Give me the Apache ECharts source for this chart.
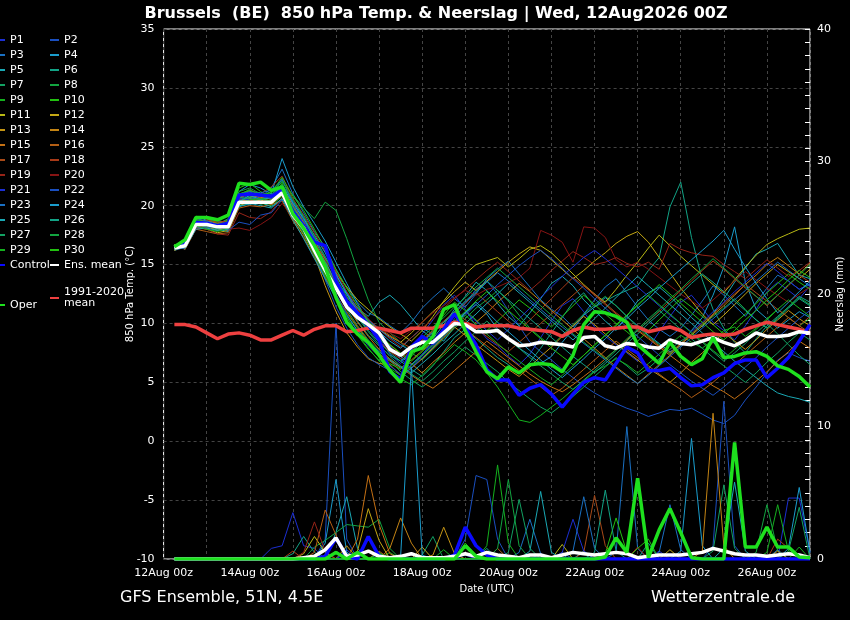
<!DOCTYPE html>
<html>
<head>
<meta charset="utf-8">
<script src="https://cdn.jsdelivr.net/npm/echarts@6/dist/echarts.min.js"></script>
<style>html,body{margin:0;padding:0;background:#000;overflow:hidden}#chart{width:850px;height:620px}</style>
</head>
<body>
<div id="chart"></div>
<script>
// forecast lead time (hours after 12Aug2026 00Z)
var leadHours = [6,12,18,24,30,36,42,48,54,60,66,72,78,84,90,96,102,108,114,120,
  126,132,138,144,150,156,162,168,174,180,186,192,198,204,210,216,222,228,234,240,
  246,252,258,264,270,276,282,288,294,300,306,312,318,324,330,336,342,348,354,360];
var dayLabels = ['12Aug 00z','','14Aug 00z','','16Aug 00z','','18Aug 00z','','20Aug 00z','',
  '22Aug 00z','','24Aug 00z','','26Aug 00z',''];

var members = ['P1','P2','P3','P4','P5','P6','P7','P8','P9','P10','P11','P12','P13','P14','P15',
  'P16','P17','P18','P19','P20','P21','P22','P23','P24','P25','P26','P27','P28','P29','P30'];
var memberColors = ['#1c2fd2','#1a4fbf','#1a70c2','#1a9ccc','#1aa8b4','#12a386','#12a062','#12a440','#14b01e','#22c010',
  '#b8b814','#c4a814','#c49414','#c48414','#c47014','#b45e14','#a84a18','#a83a18','#962418','#861414',
  '#1c2fd2','#1a4fbf','#1a70c2','#1a9ccc','#1aa8b4','#12a386','#12a062','#12a440','#14b01e','#22c010'];

// 850 hPa temperature (°C)
var tP1 = [16.3,16.7,18.2,18.0,17.9,18.0,20.6,20.9,20.4,20.2, 21.4,19.8,18.4,16.9,15.1,13.2,11.8,10.4,9.6,8.8,
  7.4,6.6,7.8,9.1,10.3,11.6,12.4,11.2,9.8,8.7, 8.1,7.2,6.5,7.4,8.8,10.2,11.5,12.1,11.0,9.7,
  8.9,8.2,7.5,6.8,7.9,9.3,10.6,11.8,12.4,11.3, 10.1,9.4,8.6,9.8,11.2,12.7,13.5,12.8,12.1,13.2];
var tP2 = [16.6,16.4,18.0,18.3,18.5,18.1,20.0,20.5,21.0,20.8, 22.3,20.1,18.7,17.2,15.6,13.8,12.3,11.0,10.2,9.4,
  8.1,7.0,6.2,7.3,8.6,9.0,10.4,11.7,12.9,13.6, 12.5,11.1,9.8,8.4,7.6,6.9,6.1,5.4,4.7,4.1,
  3.6,3.2,2.8,2.5,2.1,2.4,2.7,2.6,2.8,2.3, 1.8,1.5,2.2,3.5,4.6,5.8,6.9,7.5,7.1,6.8];
var tP3 = [16.5,16.9,18.8,18.6,18.4,18.9,20.8,21.2,20.7,21.5, 23.1,21.0,19.4,17.8,16.5,14.6,13.0,11.8,10.9,10.5,
  9.8,9.2,10.1,11.3,12.2,13.0,12.1,11.4,12.5,13.8, 14.6,15.3,14.2,13.1,12.0,11.2,10.6,9.7,10.8,12.0,
  13.1,13.8,12.6,11.4,10.3,9.5,8.9,9.6,10.7,11.9, 13.2,12.4,11.5,10.6,11.8,13.0,14.1,13.6,12.9,13.3];
var tP4 = [16.2,16.5,18.5,18.9,18.7,18.6,21.2,21.8,21.5,21.0, 24.0,21.6,19.9,18.5,17.0,15.2,13.4,11.7,10.1,9.3,
  8.5,7.9,8.8,9.6,9.1,8.5,9.7,10.9,11.6,10.8, 9.5,8.7,7.9,7.3,6.6,7.2,8.4,9.5,10.7,11.4,
  12.2,11.5,10.6,9.8,9.0,8.3,7.6,8.1,9.4,10.5, 12.4,14.8,18.2,13.5,11.2,10.4,9.6,10.3,11.0,10.5];
var tP5 = [16.7,16.3,18.1,18.2,18.0,17.8,19.9,20.2,20.0,19.8, 20.6,19.0,17.6,16.1,14.8,13.6,12.5,11.3,10.6,11.8,
  12.4,11.6,10.5,9.4,8.7,9.9,11.2,12.3,13.5,12.8, 11.7,10.6,9.8,10.9,12.1,13.4,14.0,13.2,12.0,11.1,
  10.2,9.4,10.6,11.9,12.6,13.1,12.3,11.4,10.5,9.7, 10.8,12.1,13.5,14.7,15.9,16.3,16.8,15.4,14.1,13.8];
var tP6 = [16.4,16.8,18.6,18.4,18.1,18.4,20.5,20.8,20.6,20.9, 21.8,20.4,19.0,17.1,15.4,13.3,11.6,10.2,9.0,8.1,
  7.3,6.8,6.1,5.5,6.4,7.6,8.8,9.5,8.7,7.9, 7.1,6.5,5.8,6.7,7.9,9.2,10.5,11.8,12.6,11.4,
  11.9,12.4,12.8,13.2,14.5,15.6,19.9,22.0,17.3,13.7, 11.2,9.6,8.4,7.5,8.7,9.8,10.6,11.4,12.3,11.8];
var tP7 = [16.6,16.5,18.3,18.7,18.6,18.3,20.2,20.6,20.1,20.4, 21.0,19.5,18.2,16.4,14.7,12.9,11.2,9.8,8.6,7.7,
  6.9,5.9,5.2,4.6,5.3,6.2,7.1,8.0,7.3,6.6, 5.9,5.0,4.3,3.6,2.9,2.4,3.1,3.8,4.6,5.5,
  6.3,7.1,6.4,5.6,6.2,7.0,7.8,8.5,9.1,8.4, 7.6,6.8,7.5,8.3,9.2,10.0,9.1,8.2,7.3,6.5];
var tP8 = [16.3,16.6,18.7,18.5,18.2,18.7,20.9,21.4,20.8,21.2, 22.0,20.9,19.8,18.9,20.3,19.6,17.2,14.5,12.0,10.1,
  9.2,8.4,7.5,6.9,7.8,8.7,9.6,10.4,11.3,12.0, 12.8,11.9,10.7,9.6,8.8,8.1,9.0,9.9,10.8,11.6,
  12.3,11.5,10.6,9.7,8.9,8.2,7.4,8.3,9.1,9.9, 10.6,11.3,12.1,11.2,10.3,9.6,10.5,11.4,12.2,11.6];
var tP9 = [16.5,16.7,18.5,18.3,18.0,18.2,20.1,20.4,20.2,20.0, 20.8,19.1,17.8,15.9,14.0,12.2,10.5,9.1,7.9,6.8,
  5.9,5.3,4.8,5.6,6.5,7.3,8.2,7.6,6.9,5.8, 4.6,3.2,1.8,1.6,2.2,2.9,3.6,4.4,5.1,5.9,
  6.4,7.0,6.5,5.8,6.6,7.4,8.2,9.0,8.4,7.9, 8.6,9.4,9.7,8.9,9.6,10.4,11.2,10.5,9.8,10.4];
var tP10 = [16.4,16.9,19.1,18.9,18.5,18.8,21.5,21.9,21.2,20.7, 21.9,19.9,18.3,16.5,14.2,12.4,10.9,9.6,8.4,7.5,
  6.6,6.1,7.2,8.3,9.5,10.7,11.8,11.1,10.3,9.4, 10.2,11.1,12.0,11.3,10.5,9.7,10.6,11.5,12.4,11.6,
  10.8,10.0,9.3,8.5,9.4,10.3,11.2,12.1,11.4,10.6, 9.9,9.1,10.0,10.8,11.7,12.6,13.4,14.2,13.5,12.9];
var tP11 = [16.6,16.4,18.2,18.0,17.7,17.9,20.0,20.3,20.5,20.1, 20.9,19.4,18.0,16.8,15.5,14.3,13.1,12.0,11.2,10.4,
  9.7,9.1,8.5,9.4,10.6,11.9,13.1,14.2,15.0,15.3, 15.6,14.8,15.5,16.3,16.6,16.0,15.1,14.2,13.3,12.5,
  11.8,12.9,14.1,15.2,16.4,17.5,16.6,15.7,14.9,14.1, 13.3,12.6,13.7,14.8,15.8,16.7,17.2,17.6,18.0,18.1];
var tP12 = [16.5,16.8,18.6,18.4,18.3,18.5,20.7,21.0,20.6,20.4, 21.5,19.6,18.5,17.0,15.2,13.5,12.0,10.9,10.1,9.5,
  8.9,8.4,9.2,10.1,11.0,11.8,12.7,13.5,12.8,13.6, 14.4,15.2,15.9,16.5,16.2,15.4,14.6,13.8,14.5,15.3,
  16.0,16.8,17.4,17.8,16.9,15.6,14.3,13.0,11.9,10.8, 9.9,10.7,11.6,12.5,13.4,14.2,15.0,14.4,13.8,14.6];
var tP13 = [16.2,16.6,18.4,18.2,17.9,18.1,20.3,20.6,20.4,20.3, 20.9,18.9,17.5,15.8,13.2,11.0,9.2,8.0,7.0,6.6,
  6.5,5.6,6.2,7.0,7.9,8.8,9.7,9.0,8.2,7.5, 6.8,6.1,5.5,6.3,7.2,8.0,8.9,9.8,10.6,9.9,
  9.1,8.3,7.6,6.9,6.2,5.6,5.0,5.8,6.7,7.5, 8.4,9.2,8.5,7.8,8.6,9.5,10.3,11.1,10.4,9.8];
var tP14 = [16.7,16.5,18.3,18.6,18.4,18.2,20.4,20.7,20.9,20.5, 21.2,19.3,17.9,16.3,14.6,13.1,11.9,10.7,9.9,9.0,
  8.2,7.4,6.6,5.8,6.7,7.5,8.4,9.2,10.1,10.9, 11.8,12.6,13.4,12.7,11.9,11.1,10.3,9.5,8.7,7.9,
  7.1,6.3,5.6,4.9,5.7,6.5,7.3,8.2,9.0,9.8, 10.7,11.5,12.4,13.3,14.1,15.0,15.6,14.9,14.2,15.1];
var tP15 = [16.4,16.7,18.8,18.7,18.5,18.6,20.6,21.1,20.7,20.6, 21.6,20.0,18.6,16.7,14.9,13.0,11.5,10.1,8.9,7.8,
  7.0,6.3,5.6,5.0,4.5,5.2,6.0,6.8,7.6,8.5, 7.8,7.1,6.4,5.7,5.1,4.6,4.2,4.8,5.5,6.2,
  7.0,7.8,8.6,9.4,8.7,8.0,7.3,6.6,5.9,5.3, 4.7,4.2,3.6,4.3,5.1,5.9,6.8,7.6,8.5,7.9];
var tP16 = [16.6,16.3,18.0,17.8,17.6,17.7,19.8,20.0,19.9,20.1, 20.4,18.7,17.3,15.6,13.9,12.4,11.0,9.7,8.5,7.4,
  6.8,6.2,6.9,7.7,8.5,9.3,10.2,9.5,8.8,8.1, 7.4,6.7,6.0,5.3,4.6,3.9,4.5,5.3,6.1,6.9,
  7.7,8.5,7.8,7.1,6.4,5.7,5.0,4.4,3.7,4.3, 5.0,5.8,6.5,7.3,8.1,8.9,9.7,10.5,9.8,9.2];
var tP17 = [16.5,16.6,18.3,18.1,18.2,18.3,20.5,20.4,20.6,20.2, 21.0,19.5,18.1,16.6,15.0,13.4,12.2,11.2,10.3,9.6,
  9.0,8.4,7.9,8.6,9.4,10.2,11.0,10.3,9.6,8.9, 8.2,7.6,8.4,9.2,10.0,10.8,11.6,12.4,13.2,12.5,
  11.7,10.9,10.2,9.5,8.8,8.1,7.5,8.3,9.1,10.0, 10.8,11.7,12.5,13.3,12.6,11.9,11.2,10.5,9.8,10.6];
var tP18 = [16.3,16.8,18.5,18.8,18.6,18.7,20.8,21.3,21.0,21.6, 22.5,20.6,19.2,17.7,16.1,14.4,12.7,11.1,9.7,8.5,
  7.6,7.0,7.7,8.5,9.3,10.1,10.9,11.7,12.6,11.8, 11.0,10.2,9.4,10.3,11.2,12.1,13.0,13.9,13.2,12.4,
  11.6,10.8,10.1,9.4,10.2,11.0,11.9,12.8,13.6,14.5, 15.3,14.6,13.8,13.0,12.3,11.5,12.4,13.2,14.1,13.5];
var tP19 = [16.6,16.4,18.1,18.0,17.6,17.5,19.4,19.0,18.9,19.5, 20.7,19.8,18.4,16.9,15.4,14.0,12.7,11.5,10.4,9.5,
  8.7,8.0,8.8,9.6,10.4,11.3,12.1,12.9,13.7,14.5, 15.2,14.4,13.6,12.8,13.6,14.5,15.3,16.1,15.6,15.0,
  15.2,15.6,15.1,14.8,15.2,14.6,16.8,16.3,16.0,15.8, 15.7,15.0,14.4,13.8,14.6,15.4,14.7,14.0,14.5,15.2];
var tP20 = [16.4,16.5,18.0,18.2,18.1,18.0,18.1,17.9,18.4,19.0, 20.2,19.0,17.7,16.2,14.6,13.1,11.8,10.6,9.8,9.5,
  9.2,8.7,9.4,10.1,10.9,11.5,12.2,12.8,12.4,12.9, 13.1,13.5,13.9,14.7,17.9,17.5,16.9,15.2,18.2,18.1,
  17.3,15.4,14.8,15.2,14.6,13.9,13.2,12.5,11.9,11.3, 12.0,12.8,13.6,14.4,13.7,13.0,12.4,11.8,12.5,13.1];
var tP21 = [16.5,16.7,18.4,18.3,18.1,18.4,20.6,20.5,20.8,20.6, 21.3,19.6,18.0,16.3,14.4,12.5,10.8,9.3,8.1,7.2,
  6.4,5.7,6.5,7.4,8.3,9.2,10.1,11.0,10.2,9.4, 8.6,9.5,10.4,11.3,12.2,13.1,14.0,14.8,15.6,16.2,
  15.5,14.7,13.9,13.1,12.3,11.5,10.7,10.0,9.3,10.1, 11.0,11.8,12.7,13.5,14.3,15.1,14.4,13.6,12.9,13.4];
var tP22 = [16.3,16.4,18.2,18.1,18.3,17.9,18.6,18.4,19.2,19.4, 20.5,19.3,17.8,16.0,13.7,11.4,9.6,8.2,7.1,6.5,
  6.0,5.4,6.2,7.1,8.0,8.9,9.8,10.7,11.6,12.4, 13.3,14.1,14.9,15.6,16.2,15.5,14.7,13.8,13.0,12.1,
  11.3,10.5,9.7,8.9,8.1,7.3,6.5,5.8,5.1,4.5, 3.9,4.6,5.4,6.3,7.1,8.0,8.8,9.6,10.4,11.1];
var tP23 = [16.6,16.9,18.9,18.7,18.4,18.6,21.0,21.2,21.1,21.3, 22.2,20.3,18.8,17.3,15.7,14.1,12.6,11.3,10.3,9.5,
  8.8,8.2,7.6,8.4,9.2,10.1,10.9,11.8,12.6,13.5, 14.3,13.6,12.8,12.0,11.2,10.4,9.7,9.0,8.3,7.6,
  6.9,6.2,5.5,4.9,5.6,6.4,7.2,8.0,8.8,9.6, 10.4,11.2,12.0,12.8,13.6,14.4,15.2,14.5,13.8,13.2];
var tP24 = [16.4,16.6,18.3,18.5,18.2,18.3,20.3,20.9,20.5,20.7, 21.7,20.2,18.9,17.5,16.0,14.2,12.5,11.0,9.8,8.9,
  8.0,7.2,6.5,7.3,8.2,9.1,10.0,10.9,11.8,11.0, 10.1,9.3,8.5,7.7,6.9,6.1,5.4,6.2,7.0,7.9,
  8.7,9.6,10.4,11.3,12.1,13.0,13.8,14.6,15.4,16.2, 17.0,17.9,16.3,14.8,13.4,12.1,10.9,11.8,12.7,13.6];
var tP25 = [16.5,16.4,18.0,18.1,17.9,18.0,20.0,20.1,20.3,19.9, 20.6,18.8,17.2,15.5,13.8,12.1,10.7,9.4,8.4,7.6,
  6.9,6.3,5.8,6.6,7.4,8.3,9.1,10.0,10.8,11.7, 12.5,13.4,12.6,11.8,11.0,10.2,9.4,8.6,9.5,10.4,
  11.3,12.2,13.1,14.0,13.2,12.4,11.6,10.8,10.0,9.2, 8.4,7.6,6.8,6.1,5.4,4.7,4.1,3.8,3.6,3.3];
var tP26 = [16.4,16.7,18.6,18.4,18.0,18.3,20.4,20.7,20.5,20.8, 21.5,19.9,18.5,16.8,15.2,13.5,12.0,10.6,9.4,8.4,
  7.5,6.8,7.6,8.4,9.3,10.1,11.0,11.9,12.7,13.6, 12.8,12.0,11.2,10.4,9.6,8.8,8.0,7.2,6.5,5.8,
  6.6,7.4,8.3,9.1,10.0,10.8,11.7,12.5,13.4,14.2, 13.5,12.7,11.9,11.1,10.3,9.6,10.4,11.3,12.1,11.5];
var tP27 = [16.6,16.8,18.4,18.2,18.2,18.5,20.7,20.6,20.3,20.5, 21.3,19.7,18.3,16.6,14.9,13.3,11.9,10.5,9.3,8.2,
  7.2,6.4,5.7,5.1,5.9,6.8,7.6,8.5,9.3,10.2, 9.4,8.6,7.9,7.1,6.4,5.7,5.0,4.4,5.2,6.0,
  6.8,7.7,8.5,9.4,10.2,11.1,10.3,9.5,8.7,7.9, 7.1,6.4,5.7,5.0,5.8,6.7,7.5,8.4,9.2,8.6];
var tP28 = [16.3,16.5,18.7,18.6,18.4,18.5,21.2,21.5,21.0,20.9, 22.1,20.5,19.1,17.4,15.6,13.9,12.3,10.9,9.7,8.7,
  7.9,7.2,8.0,8.8,9.7,10.5,11.4,12.2,13.1,13.9, 14.7,13.9,13.1,12.3,11.5,10.7,9.9,9.1,8.4,7.7,
  7.0,7.8,8.7,9.5,10.4,11.2,12.1,12.9,13.8,14.6, 15.5,14.7,13.9,13.1,12.3,11.6,12.4,13.3,14.1,15.0];
var tP29 = [16.5,16.6,18.3,18.0,17.8,18.1,20.2,20.5,20.6,20.4, 21.0,19.2,17.6,15.8,14.1,12.3,10.6,9.0,7.8,6.9,
  6.2,5.6,6.4,7.3,8.1,9.0,9.8,10.7,9.9,9.1, 8.3,7.5,6.8,6.1,5.4,4.8,5.6,6.4,7.3,8.1,
  9.0,9.8,10.7,11.5,12.4,11.6,10.8,10.0,9.2,8.5, 7.7,7.0,7.8,8.6,9.5,10.3,11.2,12.0,11.3,10.6];
var tP30 = [16.7,16.8,18.8,18.6,18.3,18.7,21.0,21.3,20.9,21.1, 22.4,20.8,19.6,18.0,16.3,14.6,13.0,11.5,10.2,9.1,
  8.2,7.5,6.8,7.6,8.5,9.3,10.2,11.0,11.9,12.7, 11.9,11.1,10.3,9.5,8.7,7.9,7.2,6.5,7.3,8.2,
  9.0,9.9,10.7,11.6,12.4,13.3,12.5,11.7,10.9,10.1, 9.3,8.6,9.4,10.3,11.1,12.0,12.8,13.7,14.5,13.9];
var tControl = [16.5,16.8,18.6,18.5,18.3,18.5,20.9,21.0,20.9,20.8, 21.3,19.5,18.3,16.9,16.6,13.6,11.9,10.9,9.9,8.6,
  5.9,5.2,8.0,8.9,8.3,9.5,10.8,9.7,8.2,6.1, 5.2,5.2,3.9,4.5,4.8,4.0,2.9,4.0,5.0,5.4,
  5.2,6.6,8.0,7.5,6.0,6.0,6.2,5.4,4.7,4.8, 5.4,5.8,6.6,6.9,6.9,5.4,6.2,7.1,8.5,9.9];
var tEnsMean = [16.4,16.6,18.4,18.4,18.2,18.2,20.3,20.3,20.3,20.3, 21.1,19.2,18.1,16.2,14.5,13.0,11.4,10.5,9.9,9.2,
  7.8,7.3,8.0,8.4,8.4,9.2,10.0,9.9,9.3,9.3, 9.4,8.7,8.1,8.2,8.4,8.3,8.2,8.0,8.8,8.9,
  8.1,7.9,8.3,8.2,8.0,7.9,8.6,8.3,8.2,8.5, 8.8,8.4,8.1,8.6,9.2,8.9,8.9,9.0,9.3,9.2];
var tOper = [16.5,17.1,19.0,19.0,18.8,19.2,21.9,21.8,22.0,21.3, 21.6,19.3,18.1,16.6,14.8,12.2,10.1,9.1,8.4,7.3,
  6.0,5.0,7.6,7.9,8.9,11.2,11.6,9.4,7.6,5.9, 5.3,6.3,5.8,6.5,6.6,6.5,5.9,7.3,9.9,11.0,
  10.9,10.6,10.1,8.2,7.4,6.6,8.4,7.2,6.5,7.0, 8.8,7.1,7.2,7.5,7.6,7.2,6.4,6.1,5.5,4.6];
var tClimate = [9.9,9.9,9.7,9.2,8.7,9.1,9.2,9.0,8.6,8.6, 9.0,9.4,9.0,9.5,9.8,9.8,9.3,9.4,9.6,9.6,
  9.4,9.2,9.6,9.6,9.6,9.8,10.1,10.0,9.7,9.8, 9.8,9.8,9.6,9.5,9.4,9.3,8.9,9.4,9.7,9.5,
  9.5,9.6,9.7,9.7,9.3,9.5,9.7,9.4,8.8,9.0, 9.1,9.0,9.1,9.5,9.8,10.1,9.9,9.7,9.5,9.2];

// precipitation (mm)
var rP1 = [0,0,0,0,0,0,0,0,0,0.8, 1.0,3.5,1.0,0.8,0,0,0.5,0,0,0, 0,0,0,0,0,0,0,0.3,0,0,
  0,0,0,0,0.4,0,0,0,0,0, 0,0,0,0,0,0.6,0,0,0,0, 0,0,0,0,0.3,0,0,4.6,4.6,0.5];
var rP2 = [0,0,0,0,0,0,0,0,0,0, 0,0,0,0,1.5,17.8,1.5,0,0,0.4, 0,0,0,0,0,0,0,0,0,0,
  0,0,0,0,0,0,0.5,0,0,0, 0,0,0,0,0,0,0,0,0,0, 1.0,11.9,1.0,0,0,0,0,0,0,0];
var rP3 = [0,0,0,0,0,0,0,0,0,0, 0,0,0,0,0,0,0,0.6,0,0, 0,0,0,0,0,0,0,0,0,0,
  0,0,0.5,3.0,0.4,0,0,0,0,0, 0,0.5,10.0,0.8,0,0,0,0,0,0, 0,0,0,0,0,0,0.7,0,0,0];
var rP4 = [0,0,0,0,0,0,0,0,0,0, 0,0,0,0,1.2,6.0,0.5,0,0,0, 0,0,0,0,0,0,0,0,0,0,
  0,0,0,0,0,0,0,0,0.6,0, 0,0,0,0,0,0,0,0.6,9.1,1.0, 0,0,0,0,0,0,0,0,0,0];
var rP5 = [0,0,0,0,0,0,0,0,0,0, 0,0,0,0,0,2.0,4.7,0.8,0,0, 0,0,0,0,0,0,0,0,0,0,
  0,0,0,0,0,0,0,0,0,0, 0,0,0,0,0,0,0,0,0,0, 0,0.8,5.8,0.6,0,0,0,0,0,0];
var rP6 = [0,0,0,0,0,0,0,0,0,0, 0,0.4,1.7,0.5,0,0,0,0,0,0, 0,0,0,0,0,0,0,0,0,0.8,
  0,0,0,0,0,0,0,0,0,0, 0,0,0,0,1.2,0,0,0,0,0, 0,0,0,0,0,0,0,0,0,0];
var rP7 = [0,0,0,0,0,0,0,0,0,0, 0,0,0,0,0,0,0,0,0,0, 0,0,0,0.3,1.7,0,0,0,0,0,
  0,0,0,0,0,0,0,0,0,0, 0,0,0,0,0,0,0,0,0,0, 0.6,5.6,0.8,0,0,0,0,0,0,0];
var rP8 = [0,0,0,0,0,0,0,0,0,0, 0,0,0,0.9,1.4,2.0,2.6,2.5,2.4,3.0, 0.8,0,0,0,0,0,0,0,0,0,
  0,0,0,0,0,0,0,0,0,0, 0,0,0,0,0,0,0,0,0,0, 0,0,0,0,0.5,4.1,0.6,0,0,0];
var rP9 = [0,0,0,0,0,0,0,0,0,0, 0,0,0,0,0,0,0,0,0,0, 0.5,0,0,0,0,0,0,0,0,1.0,
  7.1,1.2,0,0,0,0,0,0,0,0, 0,0,0,0,0,0,0,0,0,0, 0,0,0,0,0,0,0,0,0.9,0];
var rP10 = [0,0,0,0,0,0,0,0,0,0, 0,0,0,0,0,0,0,0,0,0, 0,0,0,0,0,0,0,1.2,0.3,0,
  0,0,0,0,0,0,0,0,0,0, 0.4,3.1,0.5,0,0,0,0,0,0,0, 0,0,0,0,0,0,0,0,0,0];
var rP11 = [0,0,0,0,0,0,0,0,0,0, 0,0,0.4,1.7,0.5,0,0,0,0,0, 0,0,0,0,0,0,0,0,0,0,
  0,0,0,0,0,0,1.1,0,0,0, 0,0,0,0,0,0,0,0,0,0, 0,0,0,0,0,0,0,0,0,0];
var rP12 = [0,0,0,0,0,0,0,0,0,0, 0,0,0,0,0,0,0,0.6,3.8,1.4, 0,0,0,0.9,0,0,0,0,0,0,
  0,0,0,0,0,0,0,0,0,0, 0,0,0,0,0,0,0.7,0,0,0, 0,0,0,0,0,0,0,0,0,0];
var rP13 = [0,0,0,0,0,0,0,0,0,0, 0,0,0,0,0,0,1.0,0,0,0, 0,0,0,0,0.3,2.4,0.4,0,0,0,
  0,0,0,0,0,0,0,0,0,0, 0,0,0,0,0,0,0,0,0,0, 0,0,0,0,0,0,0.6,0,0,0];
var rP14 = [0,0,0,0,0,0,0,0,0,0, 0,0,0,0,0,0,0,0,0,0, 0.8,3.1,1.2,0,0,0,0,0,0,0,
  0,0,0,0,0,0,0,0,0,0, 0,0,0,0,0,0,0,0,0,0.6, 11.0,1.0,0,0,0,0,0,0,0,0];
var rP15 = [0,0,0,0,0,0,0,0,0,0, 0,0,0,0,0,0,0,1.5,6.3,2.6, 0.4,0,0,0,0,0,0,0,0,0,
  0,0,0,0,0,0,0,0,0,0, 0,0,0,0,0,0,0,0,0,0, 0,0,0,0,0,0,0,0,0,0];
var rP16 = [0,0,0,0,0,0,0,0,0,0, 0,0,0,0.5,3.7,1.8,0,0,0,0, 0,0,0,0,0,0,0,0,0,0,
  0.8,0,0,0,0,0,0,0,0,0, 0,0,0,0,0,0,0,0,0,0, 0,0,0,0,0,0,0,0,0,0];
var rP17 = [0,0,0,0,0,0,0,0,0,0, 0,0,0,0,0,0,0,0,0,0.6, 0,0,0,0,0,0,0,0,0,0,
  0,0,0,0,0,0,0,0,0.5,4.8, 1.0,0,0,0,0,0,0,0,0,0, 0,0,0,0,0,0,0,0,0,0];
var rP18 = [0,0,0,0,0,0,0,0,0,0, 0,0.6,0,0,0,0,0,0,0,0, 0,0,0,0,0,0,0,0,0,0,
  0,0,0,0,0,0,0,0,0,0, 0,0,0,0,0,0,0,0,0,0, 0,0,0,0,0,0,1.5,0.8,0,0];
var rP19 = [0,0,0,0,0,0,0,0,0,0, 0,0,0.5,2.8,0.6,0,0,0,0,0, 0,0,0,0,0,0,0,0,0,0,
  0,0,0,0,0,0,0,0,0,0, 0,0,0,0.9,0,0,0,0,0,0, 0,0,0,0,0,0,0,0,0,0];
var rP20 = [0,0,0,0,0,0,0,0,0,0, 0,0,0,0,0,0,0,0,0,0, 0,0,0,0,0,0,0,0,0,0,
  0,0,0,0,0,0,0,0,0,0, 0,0,0,0,0,0.4,0,0,0,0, 0,0,0,0,0,0,0,0,0,0];
var rP21 = [0,0,0,0,0,0,0,0,0,0, 0,0,0,0,0,0,0.7,0,0,0, 0,0,0,0,0,0,0,0,0,0,
  0,0,0,0,0,0,0.5,3.0,0.6,0, 0,0,0,0,0,0,0,0,0,0, 0,0,0,0,0,0,0,0,0,0];
var rP22 = [0,0,0,0,0,0,0,0,0,0, 0,0,0,0,0,0,0,0,0,0, 0,0,0,0,0,0,0,1.5,6.3,6.0,
  1.5,0,0,0,0,0,0,0,0,0, 0,0,0,0,0,0,0,0,0,0, 0,0,0,0,0,0,0,0,0,0];
var rP23 = [0,0,0,0,0,0,0,0,0,0, 0,0,0,0,0,0,0,0,0,0, 0,0,0,0,0,0,0,0,0,0,
  0,0,0,0,0,0,0,0.6,4.7,0.8, 0,0,0,0,0,0.5,4.1,0.7,0,0, 0,0,0,0,0,0,0,0,0,0];
var rP24 = [0,0,0,0,0,0,0,0,0,0, 0,0,0,0,0,0,0,0,0,0, 0,0.2,14.5,0.3,0,0,0,0,0,0,
  0,0,0,0,0,0,0,0,0,0, 0,0,0,0,0,0,0,0,0,0, 0,0,0,0,0,0,0,0.8,5.4,0.5];
var rP25 = [0,0,0,0,0,0,0,0,0,0, 0,0,0,0,0,0,0,0,0,0, 0,0,0,0,0,0,0,0,0,0,
  0,0,0,0.6,5.1,0.5,0,0,0,0, 0,0,0,0,0,0,0,0,0,0, 0,0,0,0,0,0,0,0,0,0];
var rP26 = [0,0,0,0,0,0,0,0,0,0, 0,0,0,0,0,0.6,0,0,0,0, 0,0,0,0,0,0,0,0,0,0,
  0,0,0,0,0,0,0,0,0,0.5, 5.2,0.6,0,0,0,0,0,0,0,0, 0,0,0,0,0,0,0,0,0,0];
var rP27 = [0,0,0,0,0,0,0,0,0,0, 0,0,0,0,0,0,0,0,0,0, 0,0,0,0,0,0,0,0,0,0,
  0,0.5,4.5,0.8,0,0,0,0,0,0, 0,0,0,0,0,0,0,0,0,0, 0,0,0,0,0,0,0,0.6,3.9,0];
var rP28 = [0,0,0,0,0,0,0,0,0,0, 0,0,0,0,0,0,0,0,0,0, 0,0,0,0,0,0,0,0,0,0,
  0.8,6.0,1.0,0,0,0,0,0,0,0, 0,0,0,0,0,0,0,0,0,0, 0,0,0,0,0,0,0,0,0,0];
var rP29 = [0,0,0,0,0,0,0,0,0,0, 0,0,0,0,0,0,0,0,0,0, 0,0,0,0,0,0.7,0,0,0,0,
  0,0,0,0,0,0,0,0,0,0, 0,0,0,0,0,0,0,0,0,0, 0,0,0,0,0,0.5,4.1,0.6,0,0];
var rP30 = [0,0,0,0,0,0,0,0,0,0, 0,0,0,0,0,0,0,0,0,0.5, 0,0,0,0,0,0,0,0,0,0,
  0,0,0,0,0,0,0,0,0,0, 0,0,0,0.8,1.5,0,0,0,0,0, 0,0,0,0,0,0,0,0,0,0];
var rControl = [0,0,0,0,0,0,0,0,0,0, 0,0,0,0,0.2,1.6,0.2,0,1.7,0.2, 0,0,0,0,0,0,0.3,2.4,1.0,0.3,
  0,0,0,0,0,0,0,0,0,0, 0,0,0,0,0,0,0,0,0,0, 0,0,0,0,0,0,0,0,0,0];
var rEnsMean = [0,0,0,0,0,0,0,0,0,0, 0,0,0.1,0.2,0.7,1.6,0.2,0.3,0.6,0.2, 0.1,0.2,0.4,0.1,0.1,0.1,0.2,0.4,0.2,0.5,
  0.3,0.2,0.1,0.3,0.3,0.1,0.3,0.5,0.4,0.3, 0.4,0.5,0.4,0.1,0.2,0.3,0.3,0.3,0.4,0.5, 0.8,0.6,0.4,0.3,0.3,0.2,0.3,0.4,0.3,0.1];
var rOper = [0,0,0,0,0,0,0,0,0,0, 0,0,0,0,0,0.5,0,0.5,0,0, 0,0,0,0,0,0,0,1.0,0.2,0,
  0,0,0,0,0,0,0,0,0,0, 0.15,1.6,0.5,6.1,0.1,2.2,3.8,2.0,0.1,0, 0,0,8.8,0.9,0.9,2.4,0.9,0.9,0.15,0.1];

var memberTemp = [tP1,tP2,tP3,tP4,tP5,tP6,tP7,tP8,tP9,tP10,tP11,tP12,tP13,tP14,tP15,
  tP16,tP17,tP18,tP19,tP20,tP21,tP22,tP23,tP24,tP25,tP26,tP27,tP28,tP29,tP30];
var memberRain = [rP1,rP2,rP3,rP4,rP5,rP6,rP7,rP8,rP9,rP10,rP11,rP12,rP13,rP14,rP15,
  rP16,rP17,rP18,rP19,rP20,rP21,rP22,rP23,rP24,rP25,rP26,rP27,rP28,rP29,rP30];

var FONT = 'DejaVu Sans';

function pairs(vals) {
  return vals.map(function (v, i) { return [leadHours[i], v]; });
}
function line(name, vals, color, width, axis, z) {
  return {
    name: name, type: 'line', yAxisIndex: axis, data: pairs(vals),
    showSymbol: false, symbol: 'none', z: z,
    lineStyle: {color: color, width: width},
    itemStyle: {color: color},
    emphasis: {disabled: true}
  };
}

var series = [];
members.forEach(function (m, k) {
  series.push(line(m, memberTemp[k], memberColors[k], 1, 0, 2));
  series.push(line(m, memberRain[k], memberColors[k], 1, 1, 2));
});
series.push(line('1991-2020\nmean', tClimate, '#ee4040', 3.5, 0, 3));
series.push(line('Control', tControl, '#0a0aff', 3.5, 0, 4));
series.push(line('Control', rControl, '#0a0aff', 3.5, 1, 4));
series.push(line('Ens. mean', tEnsMean, '#ffffff', 3.5, 0, 5));
series.push(line('Ens. mean', rEnsMean, '#ffffff', 3.5, 1, 5));
series.push(line('Oper', tOper, '#1ee01e', 3.5, 0, 6));
series.push(line('Oper', rOper, '#1ee01e', 3.5, 1, 6));

function legend(names, left, top, lh) {
  return {
    data: names, orient: 'vertical', left: left, top: top, padding: 0,
    itemGap: 0, itemWidth: 9, itemHeight: 2, icon: 'rect', selectedMode: false,
    textStyle: {color: '#fff', fontSize: 11, fontFamily: FONT, lineHeight: lh}
  };
}
var col1 = members.filter(function (m, k) { return k % 2 === 0; }).concat(['Control']);
var col2 = members.filter(function (m, k) { return k % 2 === 1; }).concat(['Ens. mean']);

var chart = echarts.init(document.getElementById('chart'), null, {renderer: 'canvas'});
chart.setOption({
  backgroundColor: '#000',
  animation: false,
  textStyle: {fontFamily: FONT},
  title: [
    {text: 'Brussels  (BE)  850 hPa Temp. & Neerslag | Wed, 12Aug2026 00Z', left: 431, top: 1, textAlign: 'center',
      textStyle: {color: '#fff', fontSize: 16, fontWeight: 'bold', fontFamily: FONT}},
    {text: 'GFS Ensemble, 51N, 4.5E', left: 115, top: 585,
      textStyle: {color: '#fff', fontSize: 16, fontWeight: 'normal', fontFamily: FONT}},
    {text: 'Wetterzentrale.de', right: 50, top: 585,
      textStyle: {color: '#fff', fontSize: 16, fontWeight: 'normal', fontFamily: FONT}}
  ],
  legend: [
    legend(col1, -4, 32.5, 15),
    legend(col2, 50, 32.5, 15),
    legend(['Oper'], -4, 297.5, 15),
    legend(['1991-2020\nmean'], 50, 287, 11)
  ],
  grid: {left: 163.6, right: 40, top: 29, bottom: 61, outerBoundsMode: 'none',
    show: true, borderColor: '#fff', borderWidth: 1},
  xAxis: {
    type: 'value', min: 0, max: 360, interval: 24,
    name: 'Date (UTC)', nameLocation: 'middle', nameGap: 25, nameMoveOverlap: false,
    nameTextStyle: {color: '#fff', fontSize: 10},
    axisLine: {show: false}, axisTick: {show: false},
    axisLabel: {color: '#fff', fontSize: 11, margin: 9,
      formatter: function (v) { return dayLabels[v / 24] || ''; }},
    splitLine: {show: true, lineStyle: {color: '#444', type: [3, 3], width: 1}}
  },
  yAxis: [
    {
      type: 'value', min: -10, max: 35, interval: 5,
      name: '850 hPa Temp. (°C)', nameLocation: 'middle', nameGap: 28, nameRotate: 90, nameMoveOverlap: false,
      nameTextStyle: {color: '#fff', fontSize: 10},
      axisLine: {show: false}, axisTick: {show: false},
      axisLabel: {color: '#fff', fontSize: 11, margin: 9},
      splitLine: {show: true, lineStyle: {color: '#444', type: [3, 3], width: 1}}
    },
    {
      type: 'value', min: 0, max: 40, interval: 10, position: 'right',
      name: 'Neerslag (mm)', nameLocation: 'middle', nameGap: 25, nameRotate: 90, nameMoveOverlap: false,
      nameTextStyle: {color: '#fff', fontSize: 10},
      axisLine: {show: false},
      axisTick: {show: true, inside: true, length: 5, lineStyle: {color: '#fff'}},
      minorTick: {show: true, splitNumber: 10, length: 5, lineStyle: {color: '#fff'}},
      axisLabel: {color: '#fff', fontSize: 11, margin: 7},
      splitLine: {show: false}
    }
  ],
  series: series
});
</script>
</body>
</html>
